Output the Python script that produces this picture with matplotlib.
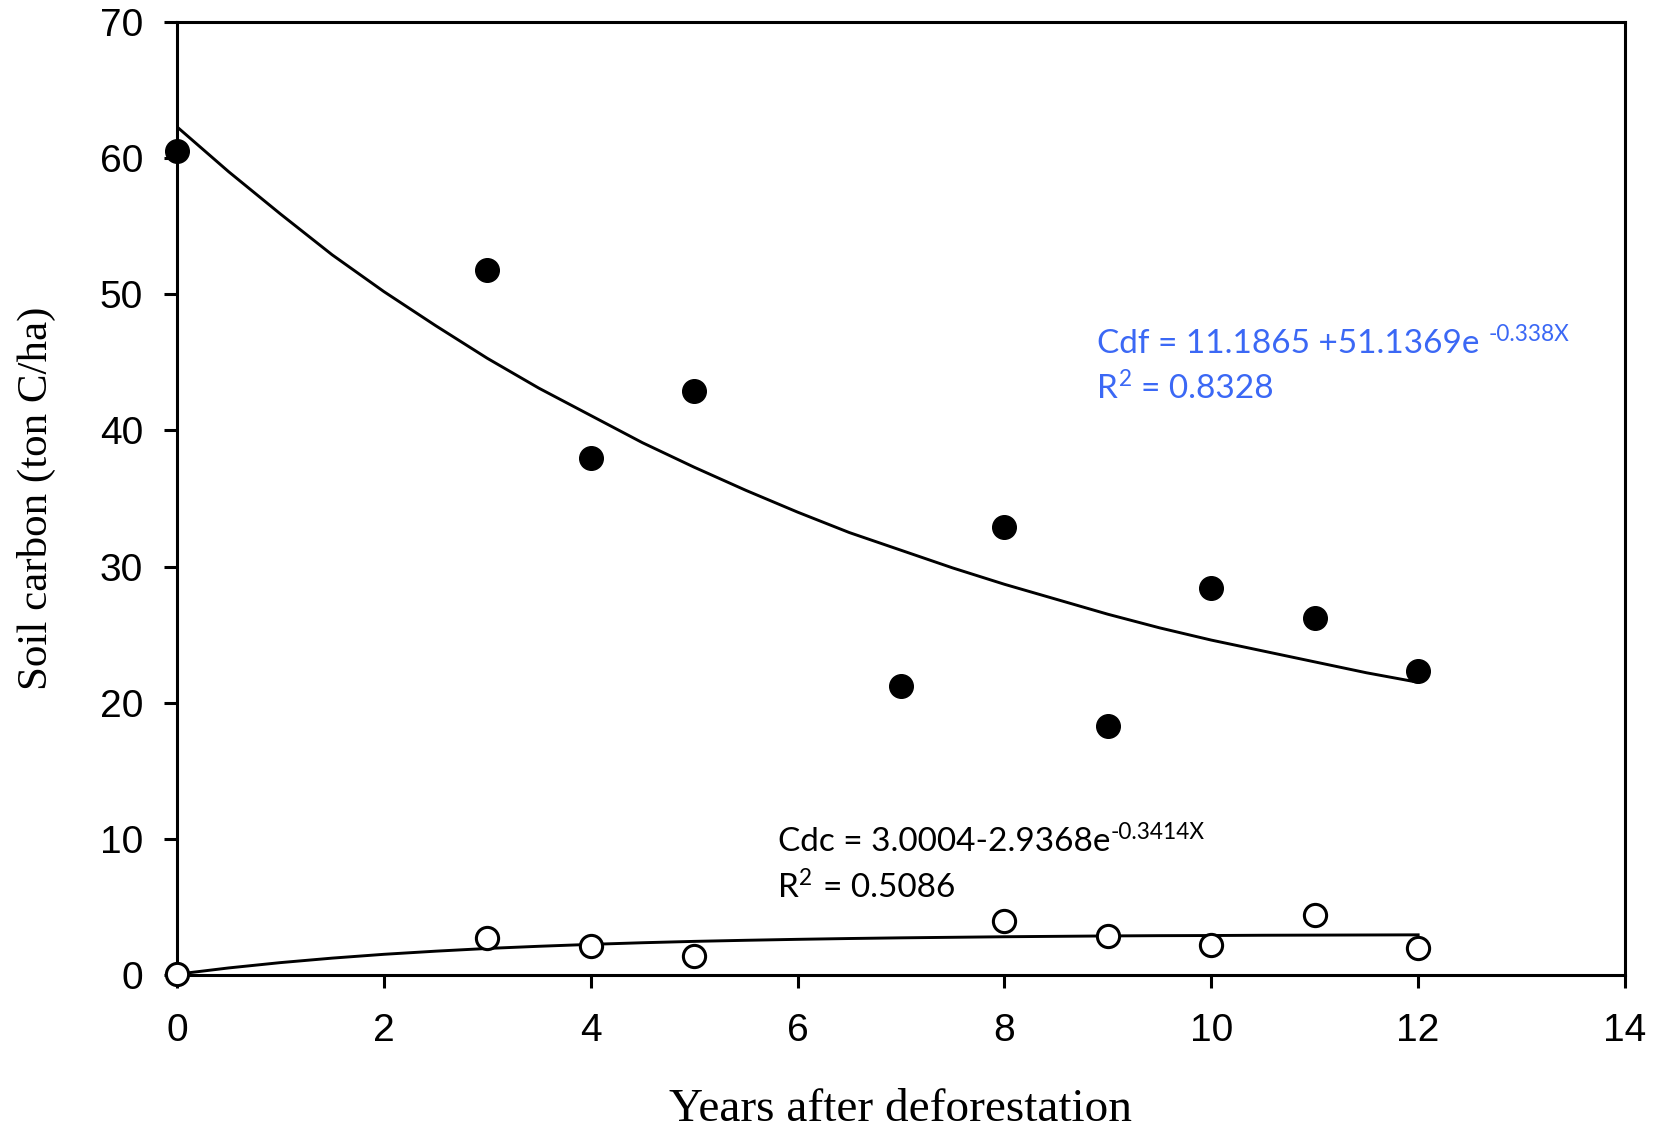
import numpy as np
import matplotlib
matplotlib.use("Agg")
import matplotlib.pyplot as plt

# data
years_df = [0, 3, 4, 5, 7, 8, 9, 10, 11, 12]
carbon_df = [60.5, 51.8, 38.0, 42.9, 21.2, 32.9, 18.3, 28.4, 26.2, 22.3]

years_dc = [0, 3, 4, 5, 8, 9, 10, 11, 12]
carbon_dc = [0.1, 2.7, 2.1, 1.4, 4.0, 2.9, 2.2, 4.4, 2.0]

# fitted curves as drawn, read every half year
fit_years = [0, 0.5, 1, 1.5, 2, 2.5, 3, 3.5, 4, 4.5, 5, 5.5, 6, 6.5,
             7, 7.5, 8, 8.5, 9, 9.5, 10, 10.5, 11, 11.5, 12]
fit_df = [62.3, 59.0, 55.9, 52.9, 50.2, 47.7, 45.3, 43.1, 41.1, 39.1,
          37.3, 35.6, 34.0, 32.5, 31.2, 29.9, 28.7, 27.6, 26.5, 25.5,
          24.6, 23.8, 23.0, 22.2, 21.5]
fit_dc = [0.06, 0.52, 0.91, 1.24, 1.52, 1.75, 1.95, 2.11, 2.25, 2.37,
          2.47, 2.55, 2.62, 2.68, 2.73, 2.77, 2.81, 2.84, 2.87, 2.89,
          2.90, 2.92, 2.93, 2.94, 2.95]

xticks = list(range(0, 15, 2))
yticks = list(range(0, 71, 10))

eq_font = "Lato"
blue = "#3B68F5"


def sup_text(ax, x, y, main, sup, color, size):
    t = ax.text(x, y, main, color=color, fontsize=size, family=eq_font,
                va="baseline", ha="left")
    ax.annotate(sup, xy=(1, 1), xycoords=t, xytext=(0.5, 3.5),
                textcoords="offset points", va="top", ha="left",
                color=color, fontsize=size * 0.68, family=eq_font)
    return t


def main():
    fig = plt.figure(figsize=(16.55, 11.29), dpi=100)
    ax = fig.add_axes([0.10695, 0.1364, 0.87492, 0.84411])

    ax.plot(fit_years, fit_df, color="black", lw=2.1, zorder=2)
    ax.plot(fit_years, fit_dc, color="black", lw=2.1, zorder=2)

    ax.plot(years_df, carbon_df, "o", color="black", ms=17, zorder=4,
            clip_on=False)
    ax.plot(years_dc, carbon_dc, "o", mfc="white", mec="black", mew=2.2,
            ms=16, zorder=4, clip_on=False)

    ax.set_xlim(0, 14)
    ax.set_ylim(0, 70)
    ax.set_xticks(xticks)
    ax.set_yticks(yticks)
    for sp in ax.spines.values():
        sp.set_linewidth(2.2)
    ax.tick_params(direction="out", length=9.5, width=2.2, labelsize=28,
                   top=False, right=False)
    ax.tick_params(axis="x", pad=18)
    ax.tick_params(axis="y", pad=15)
    for lab in ax.get_xticklabels() + ax.get_yticklabels():
        lab.set_family("Liberation Sans")

    ax.set_xlabel("Years after deforestation", family="Liberation Serif",
                  fontsize=34, va="baseline")
    ax.xaxis.set_label_coords(0.5, -0.153)
    ax.set_ylabel("Soil carbon (ton C/ha)", family="Liberation Serif",
                  fontsize=31, va="center", ha="center")
    ax.yaxis.set_label_coords(-0.0967, 0.5)

    sup_text(ax, 8.895, 45.7, "Cdf = 11.1865 +51.1369e ", "-0.338X", blue, 24)
    sup_text(ax, 8.895, 42.4, "R", "2", blue, 24)
    ax.text(9.32, 42.4, "= 0.8328", color=blue, fontsize=24,
            family=eq_font, va="baseline")

    sup_text(ax, 5.81, 9.09, "Cdc = 3.0004-2.9368e", "-0.3414X", "black", 24)
    sup_text(ax, 5.81, 5.72, "R", "2", "black", 24)
    ax.text(6.25, 5.72, "= 0.5086", color="black", fontsize=24,
            family=eq_font, va="baseline")

    fig.savefig("out.png", dpi=100)


if __name__ == "__main__":
    main()
